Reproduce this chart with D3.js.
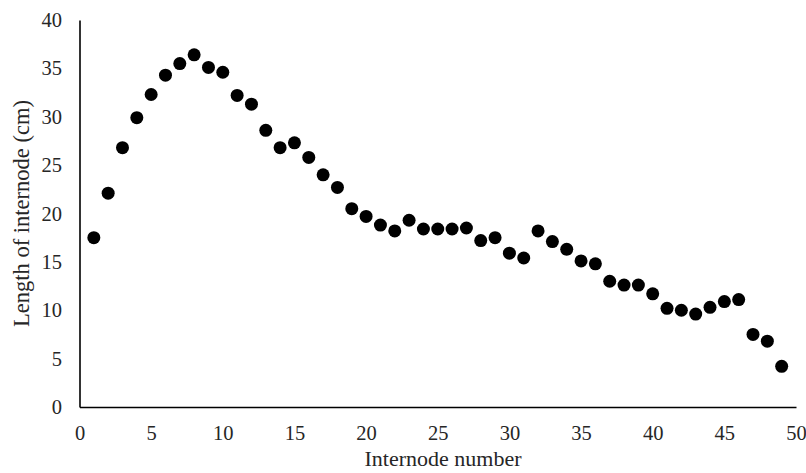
<!DOCTYPE html>
<html><head><meta charset="utf-8">
<script src="https://cdn.jsdelivr.net/npm/d3@7"></script>
<style>body{margin:0;background:#fff}svg{display:block}</style>
</head><body>
<script>
const internodes = d3.range(1, 50);
const lengths = [17.5,22.1,26.8,29.9,32.3,34.3,35.5,36.4,35.1,34.6,32.2,31.3,28.6,26.8,27.3,25.8,24.0,22.7,20.5,19.7,18.8,18.2,19.3,18.4,18.4,18.4,18.5,17.2,17.5,15.9,15.4,18.2,17.1,16.3,15.1,14.8,13.0,12.6,12.6,11.7,10.2,10.0,9.6,10.3,10.9,11.1,7.5,6.8,4.2];
const xTicks = [0,5,10,15,20,25,30,35,40,45,50];
const yTicks = [0,5,10,15,20,25,30,35,40];
const xTitle = "Internode number";
const yTitle = "Length of internode (cm)";

const W = 806, H = 473;
const svg = d3.select("body").append("svg").attr("width", W).attr("height", H);
const x = d3.scaleLinear().domain([0,50]).range([79.5,796]);
const y = d3.scaleLinear().domain([0,40]).range([407,20]);
const font = "'Liberation Serif','Times New Roman',serif";

const xa = svg.append("g").attr("transform", `translate(0,${y(0)})`)
  .call(d3.axisBottom(x).tickValues(xTicks).tickSize(0).tickPadding(18));
const ya = svg.append("g").attr("transform", `translate(${x(0)},0)`)
  .call(d3.axisLeft(y).tickValues(yTicks).tickSize(0).tickPadding(17.5));
[xa, ya].forEach(a => {
  a.select(".domain").attr("stroke", "#000").attr("stroke-width", 1.6);
  a.selectAll("text").attr("font-family", font).attr("font-size", 20.5).attr("fill", "#262626");
});

svg.append("g").selectAll("circle").data(internodes).join("circle")
  .attr("cx", (d) => x(d)).attr("cy", (d, i) => y(lengths[i])).attr("r", 6.5).attr("fill", "#000");

svg.append("text").attr("x", 443).attr("y", 466).attr("text-anchor", "middle")
  .attr("font-family", font).attr("font-size", 22).attr("fill", "#262626").text(xTitle);
svg.append("text").attr("transform", `translate(29,${y(20)}) rotate(-90)`).attr("text-anchor", "middle")
  .attr("font-family", font).attr("font-size", 22.5).attr("fill", "#262626").text(yTitle);
</script>
</body></html>
